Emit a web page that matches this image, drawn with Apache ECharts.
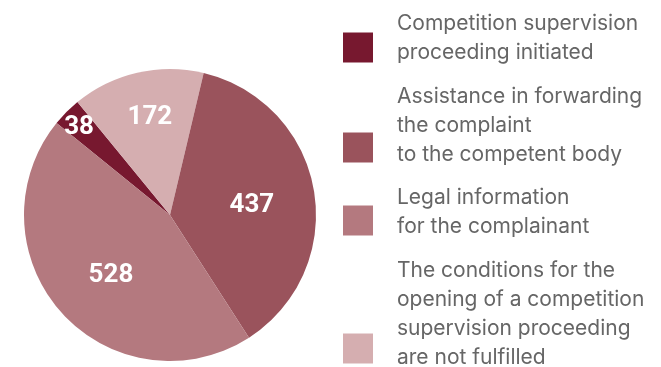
<!DOCTYPE html>
<html>
<head>
<meta charset="utf-8">
<style>
  html, body { margin: 0; padding: 0; background: #ffffff; }
  #chart { width: 661px; height: 367px; }
</style>
<script src="https://cdn.jsdelivr.net/npm/echarts@6/dist/echarts.min.js"></script>
</head>
<body>
<div id="chart"></div>
<script>
// Complaint outcomes, listed clockwise around the pie
const categories = [
  'Competition supervision\nproceeding initiated',
  'The conditions for the\nopening of a competition\nsupervision proceeding\nare not fulfilled',
  'Assistance in forwarding\nthe complaint\nto the competent body',
  'Legal information\nfor the complainant'
];
const counts = [38, 172, 437, 528];

// Legend order (top to bottom)
const legendOrder = [0, 2, 3, 1];

const colors = ['#77182f', '#d5aeb0', '#9a535c', '#b4797f'];
const labelOffsets = [[-37, -33.5], [-3, -23], [7, 3], [-2.5, 10]];

// Vertical placement of each legend entry: [top, spacer below the text]
const legendPlacement = [[13, 19], [86.5, 43], [187, 17], [260, 69]];

const chart = echarts.init(document.getElementById('chart'), null, { renderer: 'canvas' });

const legends = legendOrder.map((idx, k) => ({
  data: [categories[idx]],
  left: 343,
  top: legendPlacement[k][0],
  orient: 'vertical',
  padding: 0,
  itemWidth: 30,
  itemHeight: 30,
  icon: 'rect',
  selectedMode: false,
  // each line is a token; a blank spacer line lifts the text above the swatch
  formatter: name => name.split('\n').map(s => '{t|' + s + '}').join('\n') +
    '\n{sp| }',
  textStyle: {
    rich: {
      t: {
        fontFamily: 'Inter',
        fontSize: 21,
        lineHeight: 29,
        color: '#666666',
        padding: [0, 0, 0, 19]
      },
      sp: {
        fontSize: 1,
        lineHeight: legendPlacement[k][1]
      }
    }
  }
}));

chart.setOption({
  animation: false,
  color: colors,
  legend: legends,
  series: [{
    type: 'pie',
    center: [170, 215],
    radius: 146,
    startAngle: 141,
    clockwise: true,
    avoidLabelOverlap: false,
    itemStyle: { borderWidth: 0 },
    label: {
      show: true,
      position: 'inside',
      color: '#ffffff',
      fontFamily: 'Roboto',
      fontWeight: 'bold',
      fontSize: 26,
      formatter: '{c}'
    },
    labelLine: { show: false },
    emphasis: { disabled: true },
    data: counts.map((v, i) => ({
      name: categories[i],
      value: v,
      label: { offset: labelOffsets[i] }
    }))
  }]
});
</script>
</body>
</html>
